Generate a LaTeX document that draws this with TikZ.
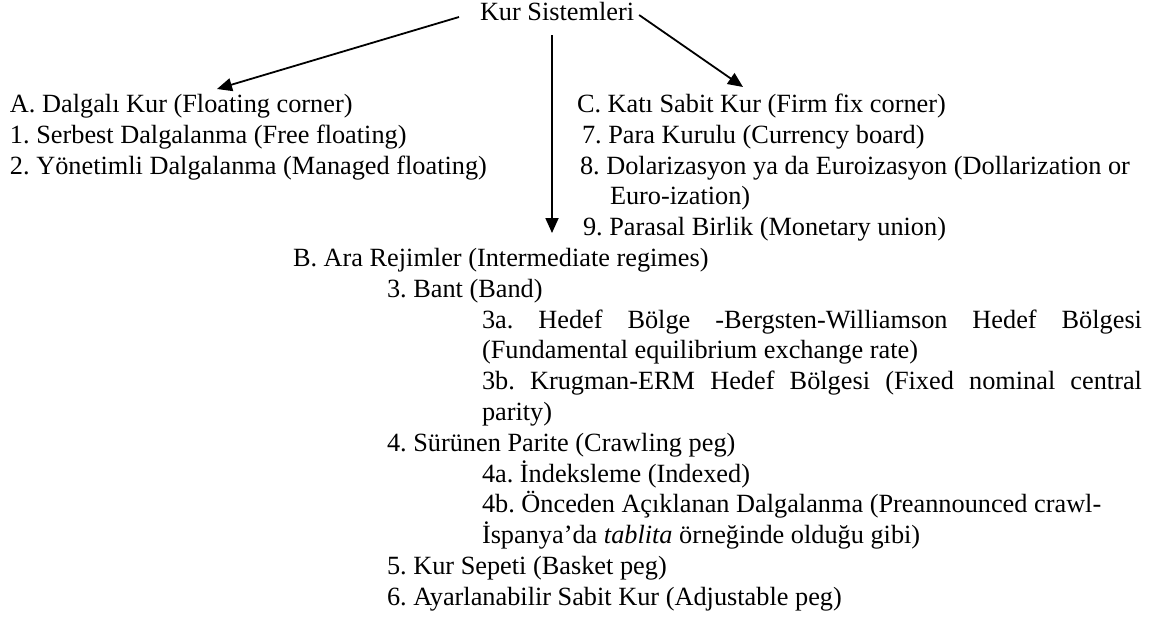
\documentclass[tikz,border=0pt]{standalone}
\usepackage{fontspec}
\setmainfont{Liberation Serif}
\usetikzlibrary{arrows.meta,calc}
\frenchspacing
\begin{document}
\begin{tikzpicture}[x=0.5pt,y=-0.5pt,
  item/.style={anchor=base west,inner sep=0pt,outer sep=0pt,
    font=\fontsize{13.15pt}{15.4pt}\selectfont\frenchspacing},
  link/.style={line width=0.9pt,-{Triangle[length=7.5pt,width=6.5pt]}}]
\useasboundingbox (0,0) rectangle (1157,616);

% root
\node[item] (root) at (480,20) {Kur Sistemleri};

% A: floating corner
\node[item] (A)  at (10,112.5) {A. Dalgalı Kur (Floating corner)};
\node[item] (a1) at (10,143.3) {1. Serbest Dalgalanma (Free floating)};
\node[item] (a2) at (10,174.1) {2. Yönetimli Dalgalanma (Managed floating)};

% C: firm fix corner
\node[item] (C)  at (577,112.5) {C. Katı Sabit Kur (Firm fix corner)};
\node[item] (c7) at (582,143.3) {7. Para Kurulu (Currency board)};
\node[item] (c8) at (580,174.1) {8. Dolarizasyon ya da Euroizasyon (Dollarization or};
\node[item] (c8b) at (610,204.9) {Euro-ization)};
\node[item] (c9) at (583,235.7) {9. Parasal Birlik (Monetary union)};

% B: intermediate regimes
\node[item] (B)   at (293,266.5) {B. Ara Rejimler (Intermediate regimes)};
\node[item] (b3)  at (387,297.3) {3. Bant (Band)};
\node[item] (b3a) at (482,328.1) {\makebox[330pt][s]{3a. Hedef Bölge -Bergsten-Williamson Hedef Bölgesi}};
\node[item] (b3a2) at (482,358.9) {(Fundamental equilibrium exchange rate)};
\node[item] (b3b) at (482,389.7) {\makebox[330pt][s]{3b. Krugman-ERM Hedef Bölgesi (Fixed nominal central}};
\node[item] (b3b2) at (482,420.5) {parity)};
\node[item] (b4)  at (387,451.3) {4. Sürünen Parite (Crawling peg)};
\node[item] (b4a) at (482,482.1) {4a. İndeksleme (Indexed)};
\node[item] (b4b) at (482,512.9) {4b. Önceden Açıklanan Dalgalanma (Preannounced crawl-};
\node[item] (b4b2) at (482,543.7) {İspanya’da \textit{tablita} örneğinde olduğu gibi)};
\node[item] (b5)  at (387,574.5) {5. Kur Sepeti (Basket peg)};
\node[item] (b6)  at (387,605.3) {6. Ayarlanabilir Sabit Kur (Adjustable peg)};

% arrow ends
\coordinate (tA) at (217,89);
\coordinate (tC) at (743,87);
\coordinate (tB) at (552,233);

\draw[link] ([shift={(-21,-3)}]root.base west) -- (tA);
\draw[link] ([shift={(5,-5)}]root.base east) -- (tC);
\draw[link] ($(root.south -| tB)+(0,15)$) -- (tB);
\end{tikzpicture}
\end{document}
